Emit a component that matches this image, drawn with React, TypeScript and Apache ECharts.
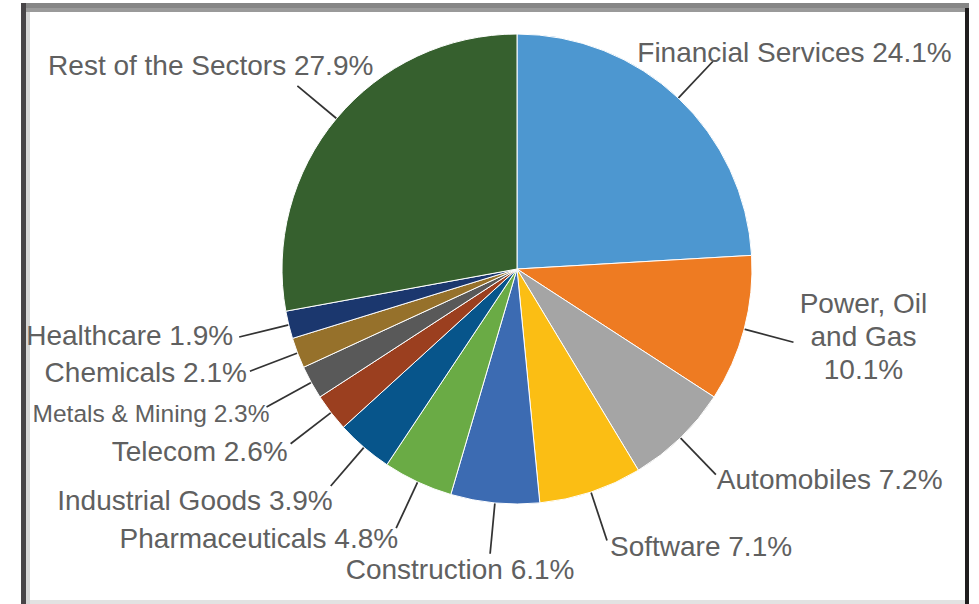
import React, { useEffect, useRef } from "react";
import * as echarts from "echarts";

// Sector weights (%), clockwise from 12 o'clock
const sectors = [
  "Financial Services",
  "Power, Oil\nand Gas",
  "Automobiles",
  "Software",
  "Construction",
  "Pharmaceuticals",
  "Industrial Goods",
  "Telecom",
  "Metals & Mining",
  "Chemicals",
  "Healthcare",
  "Rest of the Sectors",
];
const weights = [24.1, 10.1, 7.2, 7.1, 6.1, 4.8, 3.9, 2.6, 2.3, 2.1, 1.9, 27.9];

const sliceColors = [
  "#4d97d0",
  "#ee7b22",
  "#a5a5a5",
  "#fbbe14",
  "#3c6bb2",
  "#6aab45",
  "#07558b",
  "#9b3f1f",
  "#595959",
  "#96712b",
  "#1b376e",
  "#36602e",
];

// Where each label sits relative to the end of its leader line
const labelPlacement: {
  dx: number;
  dy: number;
  align: "left" | "right" | "center";
  fontSize?: number;
}[] = [
  { dx: -76, dy: -8, align: "left" },
  { dx: 70, dy: -6, align: "center" },
  { dx: 1, dy: 5, align: "left" },
  { dx: 3, dy: 6, align: "left" },
  { dx: -30, dy: 16, align: "center" },
  { dx: 2, dy: 10, align: "right" },
  { dx: 2, dy: 14, align: "right" },
  { dx: -3, dy: 8, align: "right" },
  { dx: 3, dy: 6, align: "right", fontSize: 24.5 },
  { dx: -3, dy: 1, align: "right" },
  { dx: -6, dy: -2, align: "right" },
  { dx: 76, dy: -20, align: "right" },
];

export default function App() {
  const ref = useRef<HTMLDivElement>(null);

  useEffect(() => {
    if (!ref.current) return;
    const chart = echarts.init(ref.current, null, { renderer: "svg" });

    chart.setOption({
      animation: false,
      backgroundColor: "#ffffff",
      graphic: [
        // frame around the chart area
        { type: "rect", shape: { x: 21, y: 3, width: 948, height: 5 }, style: { fill: "#868686" } },
        { type: "rect", shape: { x: 26, y: 8, width: 943, height: 4 }, style: { fill: "#9a9a9a" } },
        { type: "rect", shape: { x: 21, y: 3, width: 5, height: 601 }, style: { fill: "#474447" } },
        { type: "rect", shape: { x: 26, y: 12, width: 4, height: 592 }, style: { fill: "#d6d6d6" } },
        { type: "rect", shape: { x: 965, y: 8, width: 4, height: 596 }, style: { fill: "#1f1d1e" } },
        { type: "rect", shape: { x: 30, y: 600, width: 935, height: 4 }, style: { fill: "#e2e2e2" } },
      ],
      series: [
        {
          type: "pie",
          center: [517, 269],
          radius: 235,
          startAngle: 90,
          clockwise: true,
          avoidLabelOverlap: false,
          itemStyle: { borderColor: "#ffffff", borderWidth: 1 },
          label: {
            show: true,
            position: "outside",
            overflow: "none",
            fontFamily: "'Liberation Sans', Arial, sans-serif",
            fontSize: 28,
            lineHeight: 33,
            color: "#606060",
            formatter: (p: any) =>
              p.name.includes("\n") ? `${p.name}\n${p.value}%` : `${p.name} ${p.value}%`,
          },
          labelLine: {
            show: true,
            length: 51,
            length2: 0,
            smooth: false,
            lineStyle: { color: "#333333", width: 1.75 },
          },
          labelLayout: (p: any) => {
            const pts = p.labelLinePoints;
            const s = labelPlacement[p.dataIndex];
            if (!pts || !s) return {};
            const end = pts[pts.length - 1];
            const out: any = {
              x: end[0] + s.dx,
              y: end[1] + s.dy,
              align: s.align,
              verticalAlign: "middle",
              // keep the leader line radial, ending where the library put it
              labelLinePoints: pts,
            };
            if (s.fontSize) out.fontSize = s.fontSize;
            return out;
          },
          emphasis: { disabled: true },
          data: sectors.map((name, i) => ({
            name,
            value: weights[i],
            itemStyle: { color: sliceColors[i] },
          })),
        },
      ],
    });

    return () => chart.dispose();
  }, []);

  return (
    <div
      ref={ref}
      style={{ position: "fixed", left: 0, top: 0, width: 979, height: 604, background: "#fff" }}
    />
  );
}
